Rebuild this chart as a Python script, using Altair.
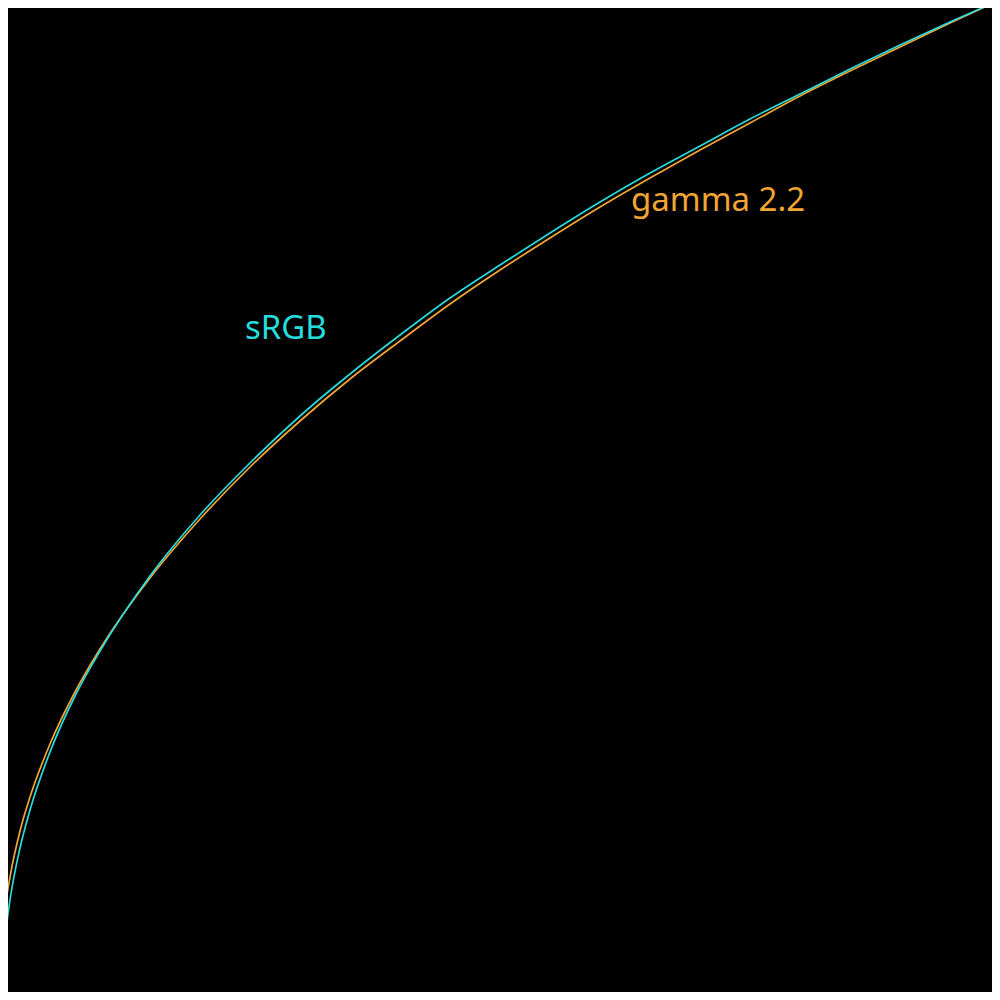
import altair as alt
import pandas as pd

# input level (0..1) and encoded output
levels = [0.0, 0.001, 0.003, 0.006, 0.01, 0.02, 0.03, 0.05, 0.075, 0.1,
          0.15, 0.2, 0.25, 0.3, 0.35, 0.4, 0.45, 0.5, 0.55, 0.6,
          0.65, 0.7, 0.75, 0.8, 0.85, 0.9, 0.95, 1.0]
srgb = [0.0, 0.013, 0.039, 0.070, 0.100, 0.152, 0.190, 0.248, 0.304, 0.349,
        0.424, 0.485, 0.537, 0.584, 0.626, 0.665, 0.702, 0.735, 0.767, 0.798,
        0.827, 0.854, 0.881, 0.906, 0.931, 0.955, 0.978, 1.0]
gamma22 = [0.0, 0.043, 0.071, 0.098, 0.123, 0.169, 0.203, 0.256, 0.308, 0.351,
           0.422, 0.481, 0.533, 0.579, 0.621, 0.659, 0.696, 0.730, 0.762, 0.793,
           0.822, 0.850, 0.877, 0.904, 0.929, 0.953, 0.977, 1.0]

series_names = ["gamma 2.2", "sRGB"]
series_colors = ["#f2a532", "#26dcdc"]

# label anchors (left edge, baseline)
label_text = ["sRGB", "gamma 2.2"]
label_x = [0.245, 0.631]
label_y = [0.661, 0.789]

curves = pd.concat([
    pd.DataFrame({"x": levels, "y": gamma22, "series": "gamma 2.2", "order": 0}),
    pd.DataFrame({"x": levels, "y": srgb, "series": "sRGB", "order": 1}),
])
labels = pd.DataFrame({"x": label_x, "y": label_y, "series": label_text})

# page margin is 8px each side, so show the inner 984px of the unit square
xs = alt.Scale(domain=[0.008, 0.992], nice=False, zero=False)
ys = alt.Scale(domain=[0.008, 0.992], nice=False, zero=False)
col = alt.Color("series:N", scale=alt.Scale(domain=series_names, range=series_colors), legend=None)

lines = alt.Chart(curves).mark_line(strokeWidth=1.7, interpolate="monotone", clip=True).encode(
    x=alt.X("x:Q", scale=xs, axis=None),
    y=alt.Y("y:Q", scale=ys, axis=None),
    color=col,
    detail="order:O",
    order="x:Q",
)

text = alt.Chart(labels).mark_text(
    align="left", baseline="alphabetic", font="Noto Sans", fontSize=33
).encode(
    x=alt.X("x:Q", scale=xs, axis=None),
    y=alt.Y("y:Q", scale=ys, axis=None),
    text="series:N",
    color=col,
)

chart = (lines + text).properties(
    width=984,
    height=984,
    background="#000000",
    padding=0,
    autosize=alt.AutoSizeParams(type="none"),
).configure_view(stroke=None)

chart.save("out.html", embed_options={"renderer": "svg", "actions": False})
